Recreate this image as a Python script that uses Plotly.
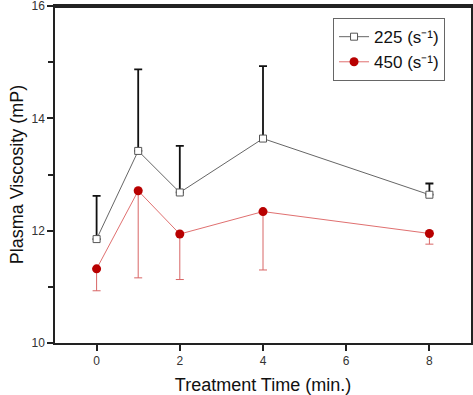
import plotly.graph_objects as go

time = [0, 1, 2, 4, 8]
visc_225 = [11.85, 13.42, 12.68, 13.64, 12.64]
err_225 = [0.77, 1.45, 0.83, 1.29, 0.20]
visc_450 = [11.32, 12.71, 11.94, 12.34, 11.95]
err_450 = [0.39, 1.55, 0.81, 1.04, 0.19]
zeros = [0] * len(time)

fig = go.Figure()
fig.add_trace(go.Scatter(
    x=time, y=visc_225, mode="lines+markers", name="225 (s⁻¹)",
    line=dict(color="#666666", width=1),
    marker=dict(symbol="square", size=7, color="white", line=dict(color="#555555", width=1)),
    error_y=dict(type="data", symmetric=False, array=err_225, arrayminus=zeros,
                 color="#111111", thickness=1.8, width=4),
))
fig.add_trace(go.Scatter(
    x=time, y=visc_450, mode="lines+markers", name="450 (s⁻¹)",
    line=dict(color="#e07070", width=1),
    marker=dict(symbol="circle", size=9, color="#b80000", line=dict(width=0)),
    error_y=dict(type="data", symmetric=False, array=zeros, arrayminus=err_450,
                 color="#d86666", thickness=1, width=4),
))

fig.update_layout(
    width=473, height=395,
    margin=dict(l=55, r=2, t=6, b=52, autoexpand=False),
    paper_bgcolor="white", plot_bgcolor="white",
    font=dict(family="Arial, Liberation Sans, sans-serif", color="#222222"),
    showlegend=True,
    legend=dict(x=0.9376, y=0.964, xanchor="right", yanchor="top",
                bordercolor="#666666", borderwidth=1, bgcolor="white",
                font=dict(size=17, color="#111111"), tracegroupgap=0,
                itemwidth=30),
    shapes=[dict(type="line", xref="paper", yref="paper", x0=0, x1=1, y0=0.997, y1=0.997,
                 layer="above", line=dict(color="#222222", width=2))],
)
fig.update_xaxes(
    range=[-1, 9], tickvals=[0, 2, 4, 6, 8], ticks="outside", ticklen=6, tickwidth=1.5,
    tickcolor="#222222", showline=True, linecolor="#222222", linewidth=1.5, mirror=True,
    showgrid=False, zeroline=False, tickfont=dict(size=12, color="#333333"),
    automargin=False,
    title=dict(text="Treatment Time (min.)", font=dict(size=18, color="#111111")),
)
fig.update_yaxes(
    range=[10, 16], tickvals=[10, 12, 14, 16], ticks="outside", ticklen=6, tickwidth=1.5,
    tickcolor="#222222", showline=True, linecolor="#222222", linewidth=1.5, mirror=True,
    showgrid=False, zeroline=False, tickfont=dict(size=12, color="#333333"),
    automargin=False, ticklabeloverflow="allow",
    minor=dict(tickvals=[11, 13, 15], ticks="outside", ticklen=5, tickwidth=1.5, tickcolor="#222222"),
    title=dict(text="Plasma Viscosity (mP)", font=dict(size=18, color="#111111"), standoff=3),
)

fig.write_html("out.html", config={"displayModeBar": False})
with open("out.html", encoding="utf-8") as f:
    html = f.read()
html = html.replace("<body>", '<body style="margin:0;padding:0;overflow:hidden">', 1)
with open("out.html", "w", encoding="utf-8") as f:
    f.write(html)
